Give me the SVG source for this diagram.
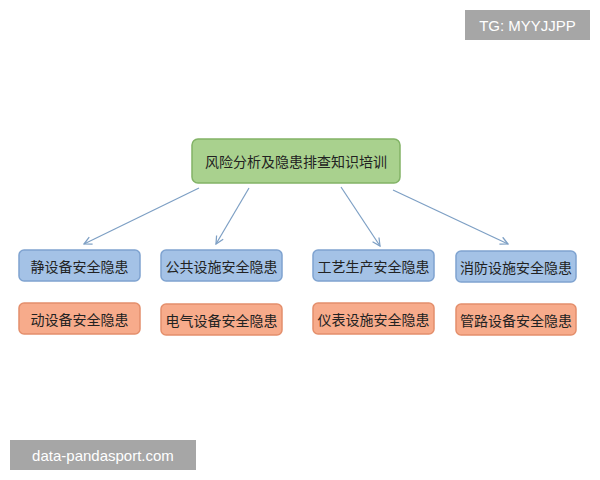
<svg xmlns="http://www.w3.org/2000/svg" width="600" height="480" viewBox="0 0 600 480">
<style>
text{font-family:"Noto Sans CJK SC","Noto Sans",sans-serif;font-size:14px;fill:#222;text-anchor:middle;dominant-baseline:central}
.b{fill:#a4c2e6;stroke:#7fa3d0;stroke-width:1.5}
.o{fill:#f7ab8b;stroke:#e48f6c;stroke-width:1.5}
.c line{stroke:#7d9fc4;stroke-width:1.2;marker-end:url(#a)}
.w{fill:#a6a6a6}
.wt{fill:#fff;font-family:"Liberation Sans",sans-serif;font-size:15px}
</style>
<defs><marker id="a" viewBox="0 0 10 10" refX="9" refY="5" markerWidth="8" markerHeight="8" orient="auto"><path d="M1,1L9,5L1,9" fill="none" stroke="#7d9fc4" stroke-width="1.3"/></marker></defs>
<rect width="600" height="480" fill="#fff"/>
<g id="root"><rect x="192" y="139" width="208" height="44" rx="6" fill="#a9d18e" stroke="#82b366" stroke-width="1.5"/><text x="296" y="161" font-size="15">风险分析及隐患排查知识培训</text></g>
<g class="c"><line x1="199" y1="188" x2="84" y2="244"/><line x1="249" y1="188" x2="216" y2="244"/><line x1="341" y1="187" x2="380" y2="246"/><line x1="393" y1="190" x2="508" y2="244"/></g>
<g id="n1"><rect class="b" x="19" y="250" width="121" height="31" rx="5"/><text x="79.5" y="266">静设备安全隐患</text></g>
<g id="n2"><rect class="b" x="161" y="250" width="121" height="31" rx="5"/><text x="221.5" y="266">公共设施安全隐患</text></g>
<g id="n3"><rect class="b" x="313" y="250" width="121" height="31" rx="5"/><text x="373.5" y="266">工艺生产安全隐患</text></g>
<g id="n4"><rect class="b" x="456" y="251" width="120" height="31" rx="5"/><text x="516" y="267">消防设施安全隐患</text></g>
<g id="n5"><rect class="o" x="19" y="303" width="121" height="31" rx="5"/><text x="79.5" y="319">动设备安全隐患</text></g>
<g id="n6"><rect class="o" x="161" y="304" width="121" height="31" rx="5"/><text x="221.5" y="320">电气设备安全隐患</text></g>
<g id="n7"><rect class="o" x="313" y="303" width="121" height="31" rx="5"/><text x="373.5" y="319">仪表设施安全隐患</text></g>
<g id="n8"><rect class="o" x="456" y="304" width="120" height="31" rx="5"/><text x="516" y="320">管路设备安全隐患</text></g>
<g id="wm1"><rect class="w" x="465" y="10" width="125" height="30"/><text class="wt" x="527.5" y="25">TG: MYYJJPP</text></g>
<g id="wm2"><rect class="w" x="10" y="440" width="186" height="30"/><text class="wt" x="103" y="455">data-pandasport.com</text></g>
</svg>
